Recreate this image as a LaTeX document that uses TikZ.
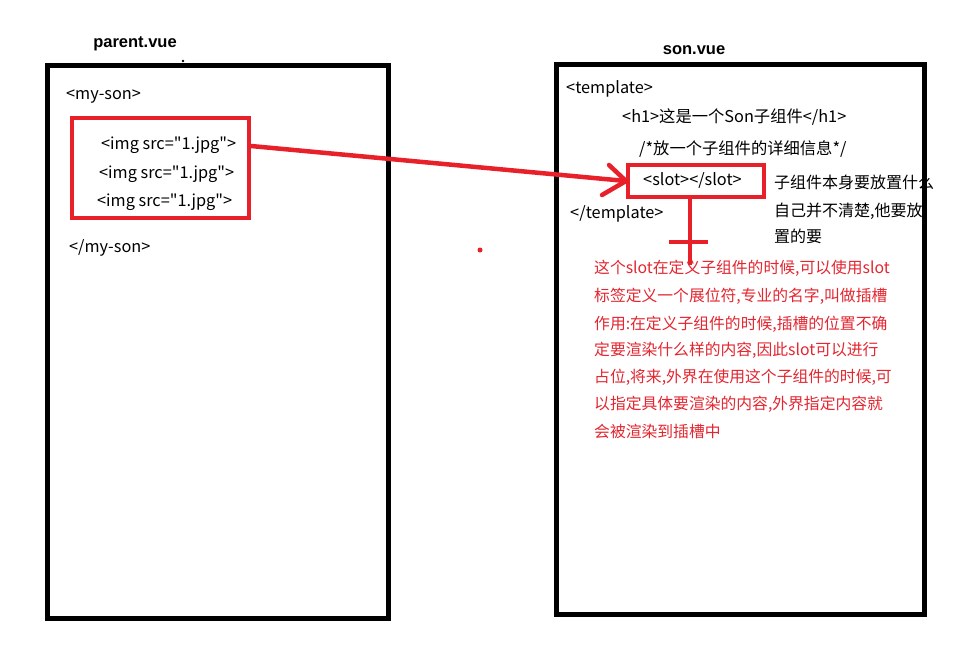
\documentclass[tikz,border=0pt]{standalone}
\usepackage{fontspec}
\setmainfont{Noto Sans CJK SC}[Ligatures=TeXOff]
\newfontfamily\titlefont{Liberation Sans}
\usetikzlibrary{calc}
\definecolor{penred}{HTML}{E8202A}
\definecolor{txtred}{HTML}{E32630}
\begin{document}
\begin{tikzpicture}[x=1pt,y=-1pt,
  frame/.style={draw=black,line width=5pt},
  redframe/.style={draw=penred,line width=4pt},
  code/.style={anchor=west,inner sep=0pt,font=\fontsize{16.3}{18}\selectfont},
  note/.style={anchor=west,inner sep=0pt,font=\fontsize{16}{18}\selectfont},
  rnote/.style={anchor=west,inner sep=0pt,text=txtred,font=\fontsize{15.8}{18}\selectfont},
  title/.style={inner sep=0pt,font=\titlefont\bfseries\fontsize{16.5}{18}\selectfont},
  pen/.style={draw=penred,line width=4.5pt}]
\useasboundingbox (0,0) rectangle (970,651);
\fill[white] (0,0) rectangle (970,651);
% parent
\node[title] (ptitle) at (135,44) {parent.vue};
\fill (183,61) circle (1.3);
\node[frame,minimum width=341pt,minimum height=553pt,inner sep=0pt] (pbox) at (217.5,341.5) {};
\node[code] (myson) at (66,97) {<my-son>};
\node[redframe,minimum width=177pt,minimum height=100pt,inner sep=0pt] (imgbox) at (160.5,168) {};
\node[code] (img1) at (101,145) {<img src="1.jpg">};
\node[code] (img2) at (99,174) {<img src="1.jpg">};
\node[code] (img3) at (97,202) {<img src="1.jpg">};
\node[code] (mysonend) at (69,248) {</my-son>};
% son
\node[title] (stitle) at (694,50) {son.vue};
\node[frame,minimum width=368pt,minimum height=550pt,inner sep=0pt] (sbox) at (740,339) {};
\node[code] (tpl) at (566,89) {<template>};
\node[code] (h1) at (622,117) {<h1>这是一个Son子组件</h1>};
\node[code] (cmt) at (639,149) {/*放一个子组件的详细信息*/};
\node[redframe,minimum width=136pt,minimum height=32pt,inner sep=0pt] (slotbox) at (696,181) {};
\node[code] (slot) at (643,180) {<slot></slot>};
\node[code] (tplend) at (570,214) {</template>};
\node[note] (side1) at (774,182) {子组件本身要放置什么};
\node[note] (side2) at (774,211) {自己并不清楚,他要放};
\node[note] (side3) at (774,236) {置的要};
% arrow
\coordinate (astart) at ($(imgbox.east)+(0,-22)$);
\draw[pen] (astart) -- (slotbox.west);
\draw[pen,line cap=round] ($(slotbox.west)+(-17,-16)$) -- (slotbox.west) -- ($(slotbox.west)+(-24,14)$);
\fill[penred] (480,250) circle (2.5);
% cross
\coordinate (vtop) at ($(slotbox.south)+(-6,0)$);
\coordinate (vbot) at (690,265);
\draw[pen] (vtop) -- (vbot);
\coordinate (hl) at (669,242);
\coordinate (hr) at (708,242);
\draw[pen] (hl) -- (hr);
% red paragraph
\node[rnote] (r1) at (594,268) {这个slot在定义子组件的时候,可以使用slot};
\node[rnote] (r2) at (594,296) {标签定义一个展位符,专业的名字,叫做插槽};
\node[rnote] (r3) at (594,324) {作用:在定义子组件的时候,插槽的位置不确};
\node[rnote] (r4) at (594,350) {定要渲染什么样的内容,因此slot可以进行};
\node[rnote] (r5) at (594,377) {占位,将来,外界在使用这个子组件的时候,可};
\node[rnote] (r6) at (594,404) {以指定具体要渲染的内容,外界指定内容就};
\node[rnote] (r7) at (594,431) {会被渲染到插槽中};
\end{tikzpicture}
\end{document}
